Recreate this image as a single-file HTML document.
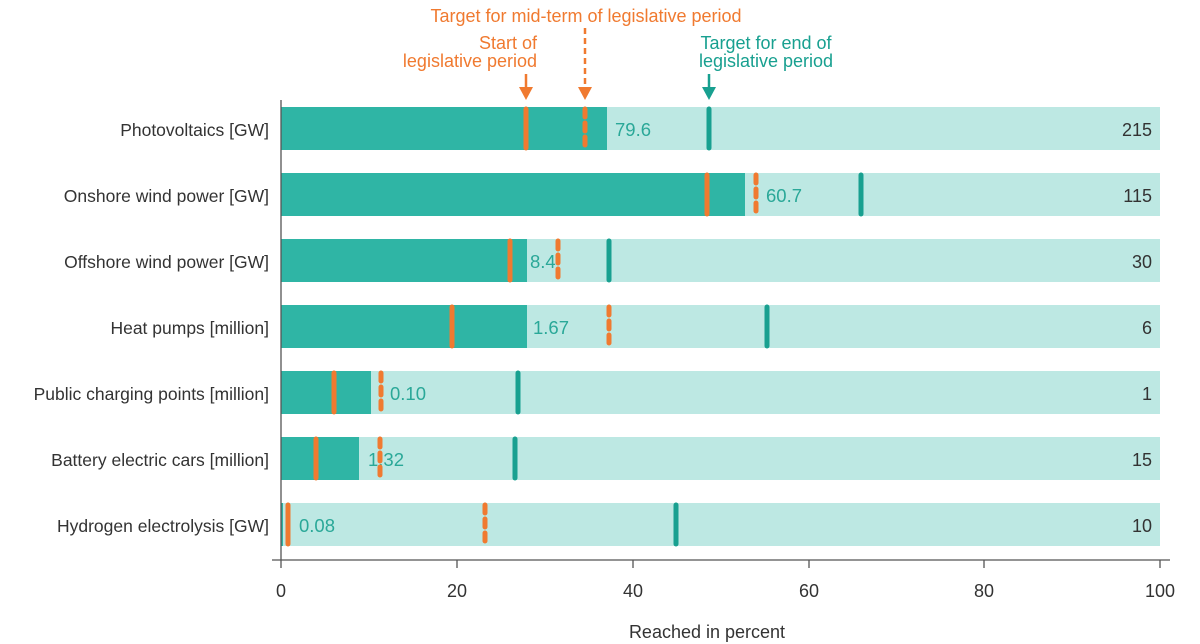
<!DOCTYPE html>
<html><head><style>body{margin:0;background:#fff}svg{display:block;font-family:"Liberation Sans",sans-serif}</style></head><body>
<svg width="1200" height="644" xmlns="http://www.w3.org/2000/svg">
<g font-size="17.5" fill="#333" text-anchor="end">
<text x="269" y="136">Photovoltaics [GW]</text>
<text x="269" y="202">Onshore wind power [GW]</text>
<text x="269" y="268">Offshore wind power [GW]</text>
<text x="269" y="334">Heat pumps [million]</text>
<text x="269" y="400">Public charging points [million]</text>
<text x="269" y="466">Battery electric cars [million]</text>
<text x="269" y="532">Hydrogen electrolysis [GW]</text>
</g>
<g fill="#bde8e3">
<rect x="281" y="107" width="879" height="43"/><rect x="281" y="173" width="879" height="43"/><rect x="281" y="239" width="879" height="43"/><rect x="281" y="305" width="879" height="43"/><rect x="281" y="371" width="879" height="43"/><rect x="281" y="437" width="879" height="43"/><rect x="281" y="503" width="879" height="43"/>
</g>
<g fill="#2fb5a5">
<rect x="281" y="107" width="326" height="43"/><rect x="281" y="173" width="464" height="43"/><rect x="281" y="239" width="246" height="43"/><rect x="281" y="305" width="246" height="43"/><rect x="281" y="371" width="90" height="43"/><rect x="281" y="437" width="78" height="43"/><rect x="281" y="503" width="2" height="43"/>
</g>
<g font-size="18.5" fill="#2aa898">
<text x="615" y="136">79.6</text><text x="766" y="202">60.7</text><text x="530" y="268">8.4</text><text x="533" y="334">1.67</text><text x="390" y="400">0.10</text><text x="368" y="466">1.32</text><text x="299" y="532">0.08</text>
</g>
<g font-size="18" fill="#333" text-anchor="end">
<text x="1152" y="136">215</text><text x="1152" y="202">115</text><text x="1152" y="268">30</text><text x="1152" y="334">6</text><text x="1152" y="400">1</text><text x="1152" y="466">15</text><text x="1152" y="532">10</text>
</g>
<g stroke="#18a090" stroke-width="5" stroke-linecap="round">
<line x1="709" y1="109" x2="709" y2="148"/><line x1="861" y1="175" x2="861" y2="214"/><line x1="609" y1="241" x2="609" y2="280"/><line x1="767" y1="307" x2="767" y2="346"/><line x1="518" y1="373" x2="518" y2="412"/><line x1="515" y1="439" x2="515" y2="478"/><line x1="676" y1="505" x2="676" y2="544"/>
</g>
<g stroke="#f07a30" stroke-width="5" stroke-linecap="round">
<line x1="526" y1="109" x2="526" y2="148"/><line x1="707" y1="175" x2="707" y2="214"/><line x1="510" y1="241" x2="510" y2="280"/><line x1="452" y1="307" x2="452" y2="346"/><line x1="334" y1="373" x2="334" y2="412"/><line x1="316" y1="439" x2="316" y2="478"/><line x1="288" y1="505" x2="288" y2="544"/>
</g>
<g stroke="#f07a30" stroke-width="5" stroke-linecap="round" stroke-dasharray="8 6">
<line x1="585" y1="109" x2="585" y2="148"/><line x1="756" y1="175" x2="756" y2="214"/><line x1="558" y1="241" x2="558" y2="280"/><line x1="609" y1="307" x2="609" y2="346"/><line x1="381" y1="373" x2="381" y2="412"/><line x1="380" y1="439" x2="380" y2="478"/><line x1="485" y1="505" x2="485" y2="544"/>
</g>
<g stroke="#555" stroke-width="1.3">
<line x1="281" y1="100" x2="281" y2="568"/><line x1="272" y1="560" x2="1170" y2="560"/>
<line x1="457" y1="560" x2="457" y2="568"/><line x1="633" y1="560" x2="633" y2="568"/><line x1="809" y1="560" x2="809" y2="568"/><line x1="984" y1="560" x2="984" y2="568"/><line x1="1160" y1="560" x2="1160" y2="568"/>
</g>
<g font-size="18" fill="#333" text-anchor="middle">
<text x="281" y="597">0</text><text x="457" y="597">20</text><text x="633" y="597">40</text><text x="809" y="597">60</text><text x="984" y="597">80</text><text x="1160" y="597">100</text>
<text x="707" y="638">Reached in percent</text>
</g>
<g font-size="18" fill="#f07a30">
<text x="586" y="22" text-anchor="middle">Target for mid-term of legislative period</text>
<text x="537" y="49" text-anchor="end">Start of</text>
<text x="537" y="67" text-anchor="end">legislative period</text>
</g>
<g font-size="18" fill="#18a090" text-anchor="middle">
<text x="766" y="49">Target for end of</text><text x="766" y="67">legislative period</text>
</g>
<g stroke="#f07a30" stroke-width="2.5">
<line x1="526" y1="74" x2="526" y2="90"/><line x1="585" y1="28" x2="585" y2="90" stroke-dasharray="6 4"/>
</g>
<polygon points="519,87 533,87 526,100" fill="#f07a30"/><polygon points="578,87 592,87 585,100" fill="#f07a30"/>
<line x1="709" y1="74" x2="709" y2="90" stroke="#18a090" stroke-width="2.5"/>
<polygon points="702,87 716,87 709,100" fill="#18a090"/>
</svg>
</body></html>
